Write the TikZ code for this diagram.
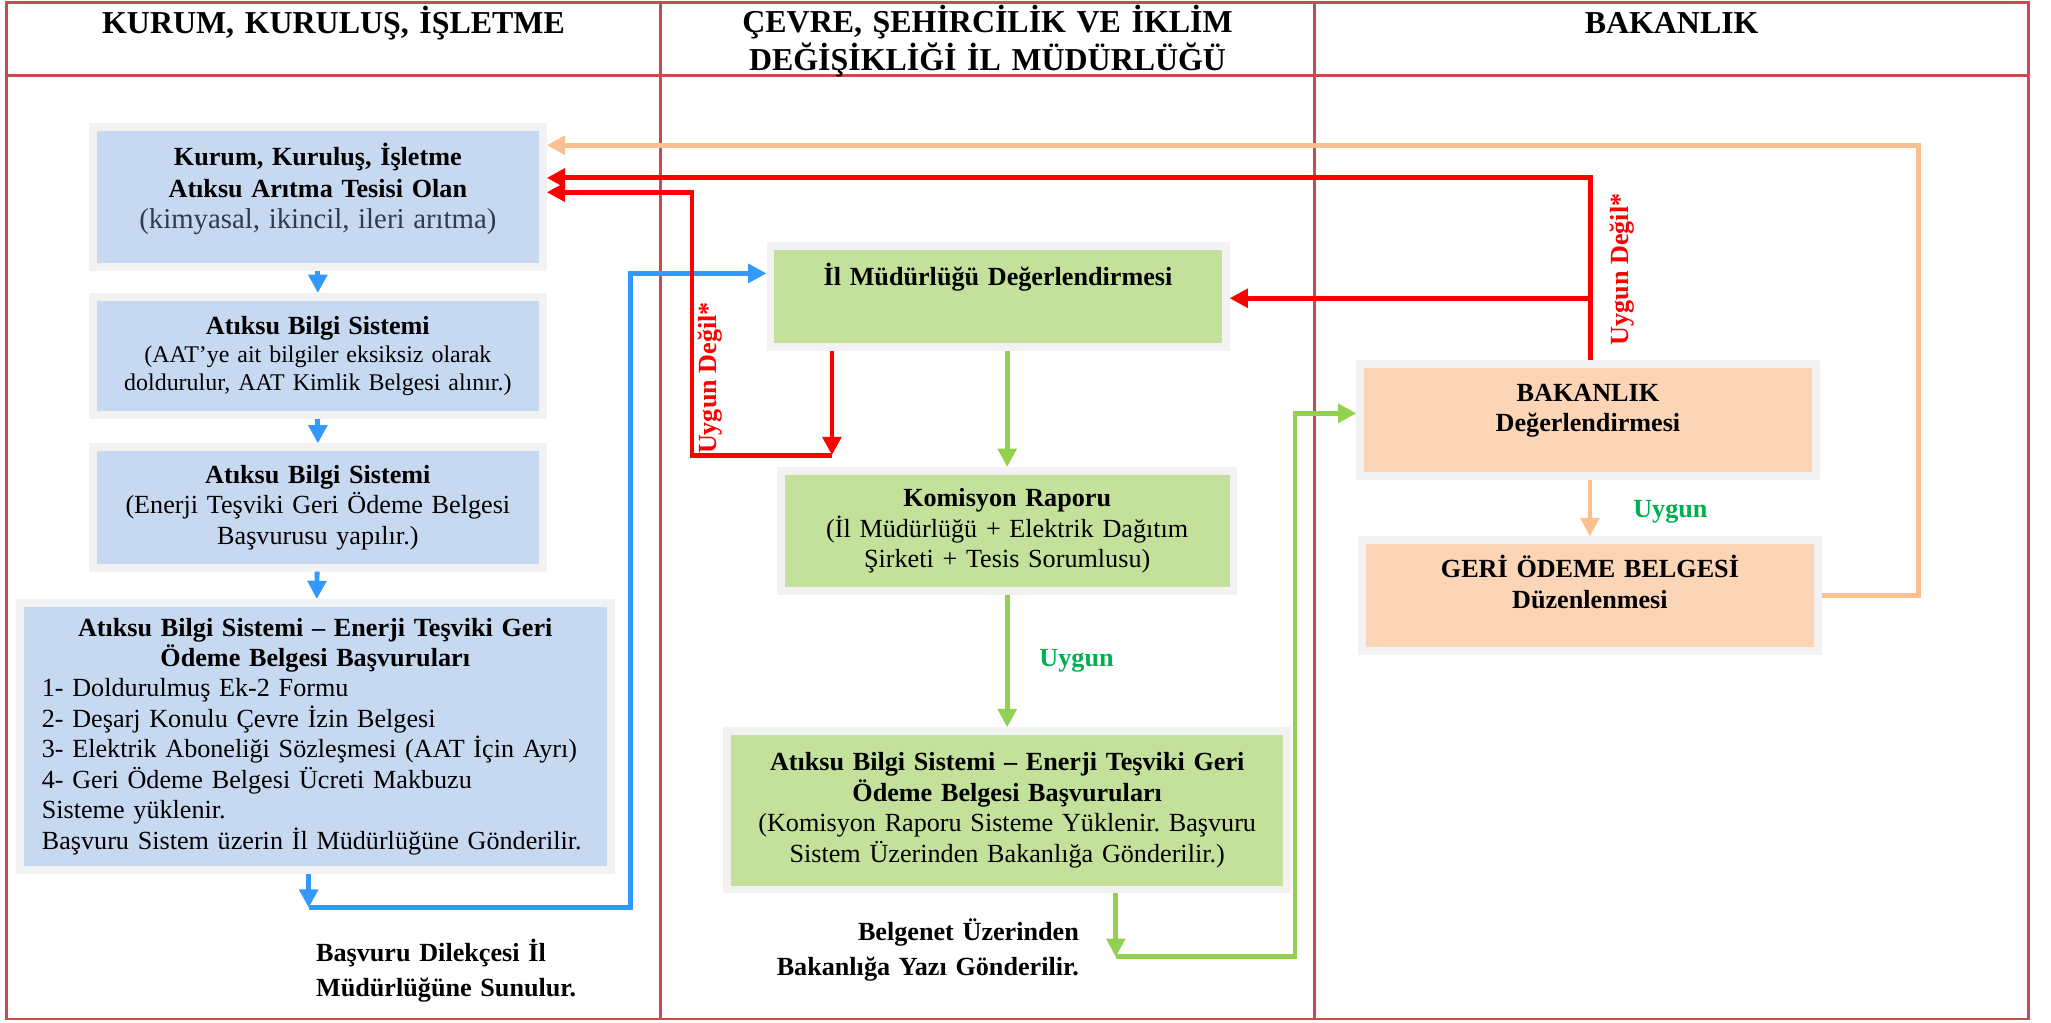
\documentclass[tikz,border=0pt]{standalone}
\usepackage{fontspec}
\setmainfont{Liberation Serif}
\usetikzlibrary{arrows.meta}
\frenchspacing
\definecolor{framered}{HTML}{C0504D}
\definecolor{boxgray}{HTML}{F2F2F2}
\definecolor{bluefill}{HTML}{C6D9F1}
\definecolor{greenfill}{HTML}{C3E19B}
\definecolor{peachfill}{HTML}{FBD5B5}
\definecolor{blueline}{HTML}{3399FF}
\definecolor{greenline}{HTML}{92D050}
\definecolor{peachline}{HTML}{FAC090}
\definecolor{okgreen}{HTML}{00B050}
\definecolor{darktext}{HTML}{2F3B52}

\begin{document}
\begin{tikzpicture}[x=1pt, y=-1pt,
  flowbox/.style={draw=boxgray, line width=6pt, inner sep=0pt, align=center, font=\fontsize{20}{23.3}\selectfont},
  bluebox/.style={flowbox, fill=bluefill},
  greenbox/.style={flowbox, fill=greenfill},
  peachbox/.style={flowbox, fill=peachfill},
  head/.style={inner sep=0pt, text width=480pt, align=center, anchor=base, font=\bfseries\fontsize{24.4}{29}\selectfont},
  note/.style={inner sep=0pt, font=\bfseries\fontsize{20}{26.5}\selectfont},
  tag/.style={inner sep=0pt, font=\bfseries\fontsize{20}{24}\selectfont},
  flow/.style={line width=3.7pt, -{Triangle[length=14pt,width=14pt]}}]
\useasboundingbox (0,0) rectangle (1568,782);
\draw[framered, line width=2.2pt] (5,2) rectangle (1551,779);
\draw[framered, line width=2.2pt] (5,58) -- (1551,58);
\draw[framered, line width=2.2pt] (505,2) -- (505,779);
\draw[framered, line width=2.2pt] (1005,2) -- (1005,779);

\node[head] (hkurum) at (255,25.5) {KURUM, KURULUŞ, İŞLETME};
\node[head] (hil) at (755,25) {ÇEVRE, ŞEHİRCİLİK VE İKLİM\\DEĞİŞİKLİĞİ İL MÜDÜRLÜĞÜ};
\node[head] (hbak) at (1278,25.5) {BAKANLIK};

\node[bluebox, minimum width=344pt, minimum height=107pt, text width=330pt, font=\fontsize{20}{24}\selectfont] (b1) at (243,150.5) {\textbf{Kurum, Kuruluş, İşletme}\\\textbf{Atıksu Arıtma Tesisi Olan}\\{\color{darktext}\fontsize{22}{24}\selectfont(kimyasal, ikincil, ileri arıtma)}\par\vspace{12pt}\kern0pt};
\node[bluebox, minimum width=344pt, minimum height=90pt, text width=330pt, font=\fontsize{18.3}{21.5}\selectfont] (b2) at (243,272) {{\fontsize{20}{21.5}\selectfont\bfseries Atıksu Bilgi Sistemi}\\(AAT’ye ait bilgiler eksiksiz olarak\\doldurulur, AAT Kimlik Belgesi alınır.)};
\node[bluebox, minimum width=344pt, minimum height=92pt, text width=330pt] (b3) at (243,388) {\textbf{Atıksu Bilgi Sistemi}\\(Enerji Teşviki Geri Ödeme Belgesi\\Başvurusu yapılır.)};
\node[bluebox, minimum width=452pt, minimum height=204pt, text width=418pt, align=left] (b4) at (241,563) {{\centering\bfseries Atıksu Bilgi Sistemi – Enerji Teşviki Geri\\Ödeme Belgesi Başvuruları\par}1- Doldurulmuş Ek-2 Formu\\2- Deşarj Konulu Çevre İzin Belgesi\\3- Elektrik Aboneliği Sözleşmesi (AAT İçin Ayrı)\\4- Geri Ödeme Belgesi Ücreti Makbuzu\\Sisteme yüklenir.\\Başvuru Sistem üzerin İl Müdürlüğüne Gönderilir.};

\node[greenbox, minimum width=348pt, minimum height=77pt, text width=330pt] (m1) at (763,226.5) {\textbf{İl Müdürlüğü Değerlendirmesi}\par\vspace{29pt}\kern0pt};
\node[greenbox, minimum width=346pt, minimum height=92pt, text width=330pt] (m2) at (770,406) {\textbf{Komisyon Raporu}\\(İl Müdürlüğü + Elektrik Dağıtım\\Şirketi + Tesis Sorumlusu)};
\node[greenbox, minimum width=428pt, minimum height=121pt, text width=420pt] (m3) at (770,619.5) {{\bfseries Atıksu Bilgi Sistemi – Enerji Teşviki Geri\\Ödeme Belgesi Başvuruları}\\(Komisyon Raporu Sisteme Yüklenir. Başvuru\\Sistem Üzerinden Bakanlığa Gönderilir.)};

\node[peachbox, minimum width=348pt, minimum height=86pt, text width=330pt] (r1) at (1214,321) {\textbf{BAKANLIK}\\\textbf{Değerlendirmesi}\par\vspace{14pt}\kern0pt};
\node[peachbox, minimum width=349pt, minimum height=85pt, text width=330pt] (r2) at (1215.5,455.5) {\textbf{GERİ ÖDEME BELGESİ}\\\textbf{Düzenlenmesi}\par\vspace{21pt}\kern0pt};

\node[note, text width=220pt, align=left, anchor=base west] (sunum) at (241.5,735) {Başvuru Dilekçesi İl\\Müdürlüğüne Sunulur.};
\node[note, text width=280pt, align=right, anchor=base east] (belgenet) at (825,719) {Belgenet Üzerinden\\Bakanlığa Yazı Gönderilir.};

\coordinate (bcorner) at (236,694);
\coordinate (rcorner) at (636,348);
\coordinate (rsplit) at (1216,228);
\coordinate (gcorner) at (853,731.5);

\draw[flow, blueline] (b1) -- (b2);
\draw[flow, blueline] (b2) -- (b3);
\draw[flow, blueline] (b3) -- (b4);
\draw[flow, blueline] (b4.south -| bcorner) -- (bcorner);
\draw[flow, blueline] (bcorner) -- (482,694) -- (482,209) -- (m1.west |- 0,209);

\draw[flow, red] (m1.south -| rcorner) -- (rcorner);
\draw[flow, red] (rcorner) -- (529,348) -- (529,147) -- (b1.east |- 0,147);
\draw[flow, red] (r1.north -| rsplit) -- (1216,136) -- (b1.east |- 0,136);
\draw[flow, red] (rsplit) -- (m1.east |- rsplit);

\draw[flow, greenline] (m2.north |- m1.south) -- (m2.north);
\draw[flow, greenline] (m2) -- (m3);
\draw[flow, greenline] (m3.south -| gcorner) -- (gcorner);
\draw[flow, greenline] (gcorner) -- (990,731.5) -- (990,316) -- (r1.west |- 0,316);

\draw[flow, peachline] (r1.south -| r2.north) -- (r2.north);
\draw[flow, peachline] (r2.east) -- (1467,455.5) -- (1467,111) -- (b1.east |- 0,111);

\node[tag, red, rotate=90] (nok1) at (543,289) {Uygun Değil*};
\node[tag, red, rotate=90] (nok2) at (1240,206) {Uygun Değil*};
\node[tag, okgreen] (ok1) at (823,505) {Uygun};
\node[tag, okgreen] (ok2) at (1277,391) {Uygun};
\end{tikzpicture}
\end{document}
